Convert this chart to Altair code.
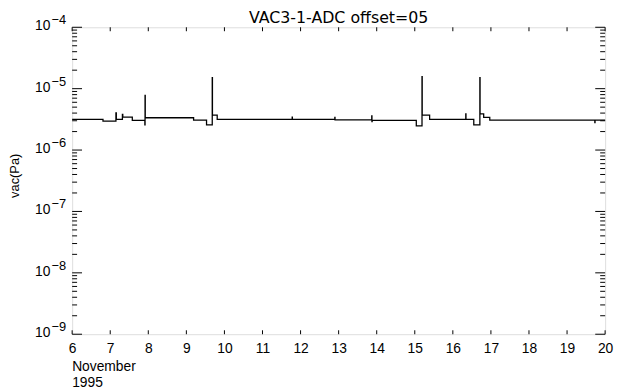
import altair as alt
import pandas as pd

# ---- data ----
days = [6.00, 6.81, 7.15, 7.16, 7.32, 7.33, 7.58, 7.91, 7.915, 7.92,
        9.19, 9.53, 9.68, 9.685, 9.81,
        11.78, 11.785, 12.90, 12.905, 13.87, 13.875, 13.88,
        15.04, 15.19, 15.195, 15.39, 16.34, 16.345, 16.55, 16.71, 16.715,
        16.81, 16.97, 19.73, 19.735, 20.00]
vac = [3.16e-6, 2.97e-6, 4.04e-6, 3.16e-6, 3.8e-6, 3.44e-6, 3.05e-6, 2.57e-6, 7.8e-6, 3.36e-6,
       3.08e-6, 2.57e-6, 1.51e-5, 3.7e-6, 3.16e-6,
       3.45e-6, 3.16e-6, 3.4e-6, 3.1e-6, 3.6e-6, 2.9e-6, 3.05e-6,
       2.47e-6, 1.57e-5, 3.7e-6, 3.16e-6, 3.9e-6, 3.16e-6, 2.57e-6, 1.51e-5, 3.9e-6,
       3.4e-6, 3.08e-6, 2.8e-6, 3.08e-6, 3.08e-6]

x_ticks = list(range(6, 21))
decades = [-9, -8, -7, -6, -5, -4]
minor_mult = [2, 3, 4, 5, 6, 7, 8, 9]

title = "VAC3-1-ADC offset=05"
y_title = "vac(Pa)"
x_sub1 = "November"
x_sub2 = "1995"

W, H = 540, 311
FONT = "Liberation Sans"

df = pd.DataFrame({"day": days, "vac": vac})
major_df = pd.DataFrame({"v": [10.0 ** k for k in decades],
                         "exp": ["\u2212" + str(-k) for k in decades]})
minor_df = pd.DataFrame({"v": [m * 10.0 ** k for k in decades[:-1] for m in minor_mult]})
xt_df = pd.DataFrame({"day": x_ticks})
one = pd.DataFrame({"k": [0]})

xscale = alt.Scale(domain=[6, 20], nice=False, zero=False)
yscale = alt.Scale(type="log", domain=[1e-9, 1e-4], nice=False)
xaxis = alt.Axis(values=x_ticks, tickSize=0, domain=False, grid=False, title=None,
                 labelFontSize=14, labelFont=FONT, labelColor="black",
                 labelPadding=8, labelFlush=False, labelOverlap=False)
X = lambda f: alt.X(f, scale=xscale, axis=xaxis)
Y = lambda f: alt.Y(f, scale=yscale, axis=None)

line = alt.Chart(df).mark_line(interpolate="step-after", color="black", strokeWidth=1.3).encode(
    x=X("day:Q"), y=Y("vac:Q"))

def yrule(data, x0, x1):
    return alt.Chart(data).mark_rule(color="black", strokeWidth=1).encode(
        y=Y("v:Q"), x=alt.value(x0), x2=alt.value(x1))

def xrule(y0, y1):
    return alt.Chart(xt_df).mark_rule(color="black", strokeWidth=1).encode(
        x=X("day:Q"), y=alt.value(y0), y2=alt.value(y1))

ticks = [
    yrule(major_df, 0, 10), yrule(major_df, W - 10, W),
    yrule(minor_df, 0, 5), yrule(minor_df, W - 5, W),
    xrule(H, H - 4), xrule(0, 4),
]

lab10 = alt.Chart(major_df).mark_text(text="10", align="right", baseline="alphabetic",
                                      fontSize=14, font=FONT, dy=3, color="black").encode(
    y=Y("v:Q"), x=alt.value(-22))
labexp = alt.Chart(major_df).mark_text(align="right", baseline="alphabetic",
                                       fontSize=13, font=FONT, dy=-3, color="black").encode(
    y=Y("v:Q"), x=alt.value(-6), text="exp:N")

def label(txt, x, y, **kw):
    return alt.Chart(one).mark_text(text=txt, font=FONT, color="black", **kw).encode(
        x=alt.value(x), y=alt.value(y))

ytitle = label(y_title, -58, H / 2 - 5, angle=270, align="center", baseline="middle", fontSize=13)
sub1 = label(x_sub1, 0, H + 26, align="left", baseline="top", fontSize=14)
sub2 = label(x_sub2, 0, H + 42, align="left", baseline="top", fontSize=14)
ttl = alt.Chart(one).mark_text(text=title, font="DejaVu Sans", fontSize=16, color="black",
                               align="center", baseline="alphabetic").encode(
    x=alt.value(W / 2), y=alt.value(-4))

chart = alt.layer(line, *ticks, lab10, labexp, ytitle, sub1, sub2, ttl).properties(
    width=W, height=H,
    autosize=alt.AutoSizeParams(type="none"),
    padding={"left": 65, "top": 17, "right": 9, "bottom": 55},
).configure_view(stroke="black", strokeWidth=1.5).configure(background="white")

chart.save("out.html", embed_options={"renderer": "svg", "actions": False})
